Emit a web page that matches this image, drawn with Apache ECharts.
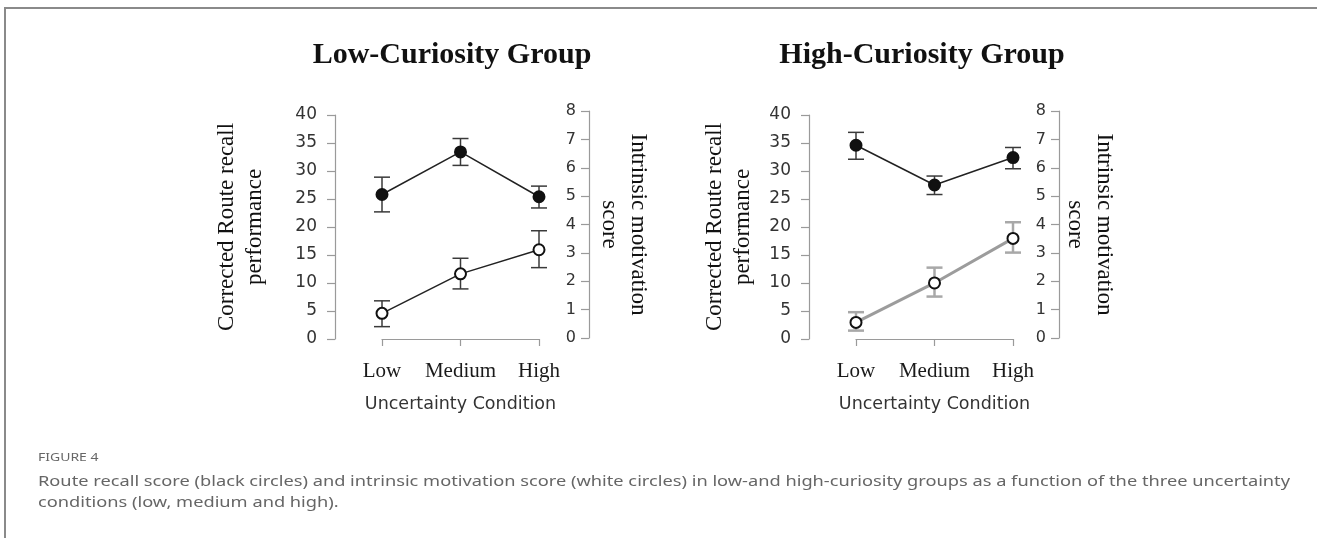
<!DOCTYPE html>
<html>
<head>
<meta charset="utf-8">
<script src="https://cdn.jsdelivr.net/npm/echarts@6/dist/echarts.min.js"></script>
<style>
  html, body { margin: 0; padding: 0; background: #fff; }
  #chart { position: absolute; left: 0; top: 0; width: 1317px; height: 538px; }
  #frame { position: absolute; left: 4px; top: 7px; right: 0; bottom: 0;
           border-left: 2px solid #8a8a8a; border-top: 2px solid #8a8a8a; pointer-events: none; }
</style>
</head>
<body>
<div id="chart"></div>
<div id="frame"></div>
<script>
var conditions = ['Low', 'Medium', 'High'];

// low-curiosity group
var lowRecall   = [25.8, 33.4, 25.4];
var lowRecallLo = [22.7, 31.0, 23.4];
var lowRecallHi = [28.9, 35.8, 27.3];
var lowMotiv    = [0.87, 2.26, 3.11];
var lowMotivLo  = [0.40, 1.73, 2.48];
var lowMotivHi  = [1.31, 2.81, 3.78];

// high-curiosity group
var highRecall   = [34.6, 27.5, 32.4];
var highRecallLo = [32.1, 25.8, 30.4];
var highRecallHi = [36.9, 29.1, 34.2];
var highMotiv    = [0.55, 1.94, 3.51];
var highMotivLo  = [0.26, 1.46, 3.01];
var highMotivHi  = [0.91, 2.48, 4.08];

var titles = ['Low-Curiosity Group', 'High-Curiosity Group'];
var caption = [
  'Route recall score (black circles) and intrinsic motivation score (white circles) in low-and high-curiosity groups as a function of the three uncertainty',
  'conditions (low, medium and high).'
];

var serif = '"Liberation Serif", "Times New Roman", serif';
var sans = '"DejaVu Sans", sans-serif';
var capFont = '"Noto Sans", sans-serif';

function bars(lo, hi) {
  return lo.map(function (v, i) { return [i, v, hi[i]]; });
}

function errorBar(color, width) {
  return function (params, api) {
    var x = api.value(0);
    var a = api.coord([x, api.value(1)]);
    var b = api.coord([x, api.value(2)]);
    var hw = 8;
    var st = { stroke: color, lineWidth: width };
    return {
      type: 'group',
      children: [
        { type: 'line', shape: { x1: a[0], y1: a[1], x2: b[0], y2: b[1] }, style: st },
        { type: 'line', shape: { x1: a[0] - hw, y1: a[1], x2: a[0] + hw, y2: a[1] }, style: st },
        { type: 'line', shape: { x1: b[0] - hw, y1: b[1], x2: b[0] + hw, y2: b[1] }, style: st }
      ]
    };
  };
}

// panel layout: x of Low tick, y axes offsets
var panels = [
  { left: 382, leftOff: 47, rightOff: 50, nameGap: 66, rNameGap: 6 },
  { left: 856, leftOff: 47, rightOff: 46, nameGap: 52, rNameGap: 2 }
];
var plotW = 157;

var grid = [], xAxis = [], yAxis = [];
panels.forEach(function (p, k) {
  grid.push({ left: p.left, width: plotW, top: 115, height: 224, outerBoundsMode: 'none' });
  grid.push({ left: p.left, width: plotW, top: 111, height: 227, outerBoundsMode: 'none' });

  xAxis.push({
    type: 'category', gridIndex: 2 * k, data: conditions, boundaryGap: false,
    offset: 12,
    axisLine: { lineStyle: { color: '#9a9a9a', width: 1.2 } },
    axisTick: { length: 7, interval: 0, lineStyle: { color: '#9a9a9a', width: 1.2 } },
    axisLabel: { interval: 0, hideOverlap: false, margin: 10, fontFamily: serif, fontSize: 21, color: '#1a1a1a' },
    name: 'Uncertainty Condition', nameLocation: 'middle', nameGap: 44,
    nameTextStyle: { fontFamily: sans, fontSize: 17.5, color: '#333' }
  });
  xAxis.push({
    type: 'category', gridIndex: 2 * k + 1, data: conditions, boundaryGap: false, show: false
  });

  yAxis.push({
    type: 'value', gridIndex: 2 * k, min: 0, max: 40, interval: 5, position: 'left',
    offset: p.leftOff,
    splitLine: { show: false },
    axisLine: { show: true, lineStyle: { color: '#9a9a9a', width: 1.2 } },
    axisTick: { show: true, length: 8, lineStyle: { color: '#9a9a9a', width: 1.2 } },
    axisLabel: { margin: 18, fontFamily: sans, fontSize: 17, color: '#333' },
    name: 'Corrected Route recall\nperformance', nameLocation: 'middle', nameRotate: 90,
    nameGap: p.nameGap,
    nameTextStyle: { fontFamily: serif, fontSize: 23, lineHeight: 28, color: '#111', align: 'center' }
  });
  yAxis.push({
    type: 'value', gridIndex: 2 * k + 1, min: 0, max: 8, interval: 1, position: 'right',
    offset: p.rightOff,
    splitLine: { show: false },
    axisLine: { show: true, lineStyle: { color: '#9a9a9a', width: 1.2 } },
    axisTick: { show: true, inside: true, length: 8, lineStyle: { color: '#9a9a9a', width: 1.2 } },
    axisLabel: { inside: true, margin: 13, fontFamily: sans, fontSize: 16, color: '#333' },
    name: 'Intrinsic motivation\nscore', nameLocation: 'middle', nameRotate: -90,
    nameGap: p.rNameGap,
    nameTextStyle: { fontFamily: serif, fontSize: 23, lineHeight: 29, color: '#111', align: 'center' }
  });
});

function lineSeries(data, xi, yi, fill, lineColor, lineWidth) {
  return {
    type: 'line', xAxisIndex: xi, yAxisIndex: yi, data: data, z: 3,
    symbol: 'circle', symbolSize: 11,
    lineStyle: { color: lineColor, width: lineWidth },
    itemStyle: { color: fill, borderColor: '#111', borderWidth: 2 },
    animation: false
  };
}

function errSeries(data, xi, yi, color, width) {
  return {
    type: 'custom', xAxisIndex: xi, yAxisIndex: yi, data: data, z: 2,
    renderItem: errorBar(color, width), encode: { x: 0, y: [1, 2] }, animation: false
  };
}

var series = [
  errSeries(bars(lowRecallLo, lowRecallHi), 0, 0, '#3a3a3a', 1.5),
  lineSeries(lowRecall, 0, 0, '#111', '#222', 1.5),
  errSeries(bars(lowMotivLo, lowMotivHi), 1, 1, '#3a3a3a', 1.5),
  lineSeries(lowMotiv, 1, 1, '#fff', '#222', 1.5),

  errSeries(bars(highRecallLo, highRecallHi), 2, 2, '#3a3a3a', 1.5),
  lineSeries(highRecall, 2, 2, '#111', '#222', 1.5),
  errSeries(bars(highMotivLo, highMotivHi), 3, 3, '#a8a8a8', 2.5),
  lineSeries(highMotiv, 3, 3, '#fff', '#9c9c9c', 3)
];

// the caption font in the figure runs wider than Noto Sans; stretch to match its line length
var ctx = document.createElement('canvas').getContext('2d');
ctx.font = '15px ' + capFont;
var capScale = 1252 / ctx.measureText(caption[0]).width;

var graphic = [
  { type: 'text', x: 452, y: 55, style: { text: titles[0], font: 'bold 30px ' + serif, fill: '#111', align: 'center', verticalAlign: 'middle' } },
  { type: 'text', x: 922, y: 55, style: { text: titles[1], font: 'bold 30px ' + serif, fill: '#111', align: 'center', verticalAlign: 'middle' } },
  { type: 'text', x: 38, y: 458, scaleX: capScale, style: { text: 'FIGURE 4', font: '11.5px ' + capFont, fill: '#666', verticalAlign: 'middle' } },
  { type: 'text', x: 38, y: 482, scaleX: capScale, style: { text: caption[0], font: '15px ' + capFont, fill: '#666', verticalAlign: 'middle' } },
  { type: 'text', x: 38, y: 503, scaleX: capScale, style: { text: caption[1], font: '15px ' + capFont, fill: '#666', verticalAlign: 'middle' } }
];

var chart = echarts.init(document.getElementById('chart'));
chart.setOption({
  animation: false,
  grid: grid,
  xAxis: xAxis,
  yAxis: yAxis,
  series: series,
  graphic: graphic
});
</script>
</body>
</html>
